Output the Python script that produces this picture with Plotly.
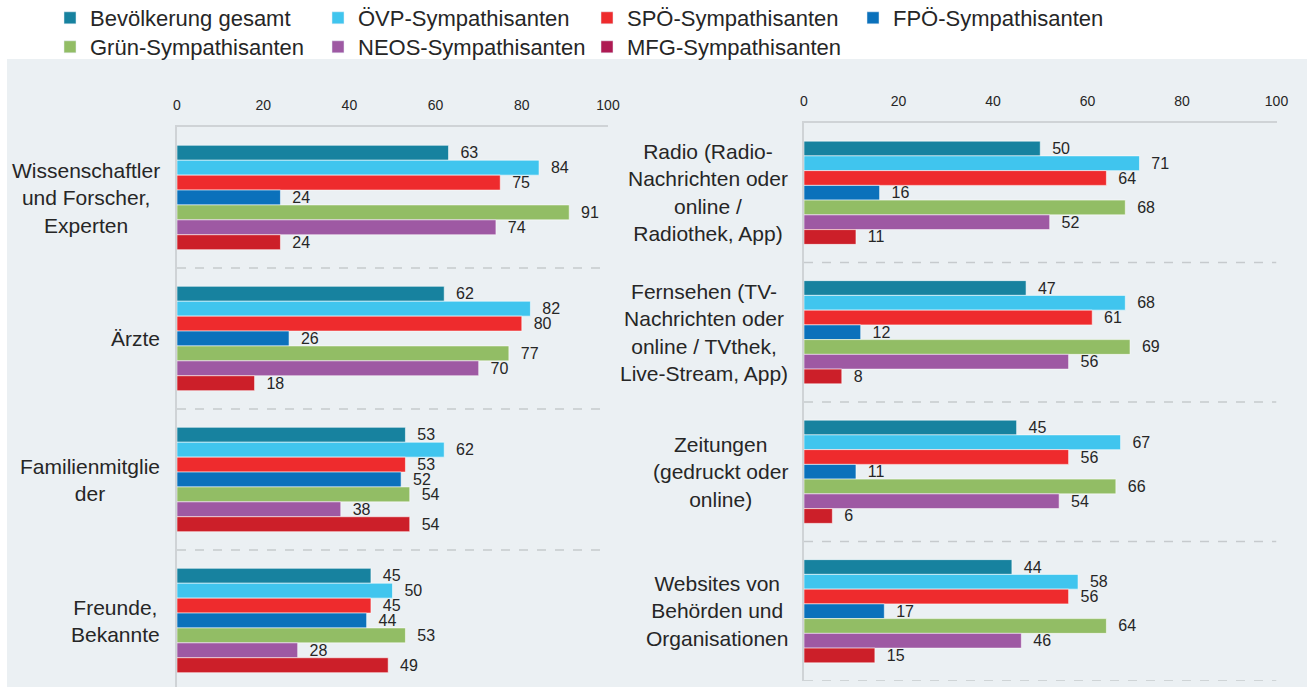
import plotly.graph_objects as go

W, H = 1307, 687

series_names = ["Bevölkerung gesamt", "ÖVP-Sympathisanten", "SPÖ-Sympathisanten",
                "FPÖ-Sympathisanten", "Grün-Sympathisanten", "NEOS-Sympathisanten",
                "MFG-Sympathisanten"]
bar_colors = ["#17829f", "#40c5ee", "#ee2b2d", "#0b71bb", "#92bd65", "#9e59a3", "#cc1f29"]
legend_colors = ["#17829f", "#40c5ee", "#ee2b2d", "#0b71bb", "#92bd65", "#9e59a3", "#ae1a53"]

left_categories = ["Wissenschaftler und Forscher, Experten", "Ärzte",
                   "Familienmitglieder", "Freunde, Bekannte"]
left_labels = ["Wissenschaftler<br>und Forscher,<br>Experten", "Ärzte",
               "Familienmitglie<br>der", "Freunde,<br>Bekannte"]
# values per series (rows) for each left category (columns)
left_values = [
    [63, 62, 53, 45],   # Bevölkerung gesamt
    [84, 82, 62, 50],   # ÖVP
    [75, 80, 53, 45],   # SPÖ
    [24, 26, 52, 44],   # FPÖ
    [91, 77, 54, 53],   # Grün
    [74, 70, 38, 28],   # NEOS
    [24, 18, 54, 49],   # MFG
]

right_categories = ["Radio (Radio-Nachrichten oder online / Radiothek, App)",
                    "Fernsehen (TV-Nachrichten oder online / TVthek, Live-Stream, App)",
                    "Zeitungen (gedruckt oder online)",
                    "Websites von Behörden und Organisationen"]
right_labels = ["Radio (Radio-<br>Nachrichten oder<br>online /<br>Radiothek, App)",
                "Fernsehen (TV-<br>Nachrichten oder<br>online / TVthek,<br>Live-Stream, App)",
                "Zeitungen<br>(gedruckt oder<br>online)",
                "Websites von<br>Behörden und<br>Organisationen"]
right_values = [
    [50, 47, 45, 44],   # Bevölkerung gesamt
    [71, 68, 67, 58],   # ÖVP
    [64, 61, 56, 56],   # SPÖ
    [16, 12, 11, 17],   # FPÖ
    [68, 69, 66, 64],   # Grün
    [52, 56, 54, 46],   # NEOS
    [11, 8, 6, 15],     # MFG
]

x_ticks = [0, 20, 40, 60, 80, 100]

FONT = "Liberation Sans, Arial, sans-serif"
TXT = "#262626"
PANEL = "#ebf0f3"
AXIS = "#cfd3d6"

fig = go.Figure()

for i, name in enumerate(series_names):
    common = dict(
        orientation="h", name=name, showlegend=False,
        marker=dict(color=bar_colors[i], line=dict(color="rgba(255,255,255,0.55)", width=1)),
        texttemplate="\u00a0\u00a0%{x}", textposition="outside",
        textfont=dict(size=16, color=TXT, family=FONT),
        constraintext="none", cliponaxis=False, hoverinfo="x+y+name",
    )
    fig.add_trace(go.Bar(x=left_values[i], y=left_categories, xaxis="x", yaxis="y", **common))
    fig.add_trace(go.Bar(x=right_values[i], y=right_categories, xaxis="x2", yaxis="y2", **common))

def px_x(v):
    return v / W

def px_y(v):
    return 1 - v / H

# one legend per entry, placed like the original two-row legend
legend_keys = ["legend", "legend2", "legend3", "legend4", "legend5", "legend6", "legend7"]
legend_pos = [(50, 18), (318, 18), (587, 18), (853, 18), (50, 47), (318, 47), (587, 47)]
for i, name in enumerate(series_names):
    fig.add_trace(go.Bar(x=[None], y=[None], name=name, orientation="h",
                         marker=dict(color=legend_colors[i]),
                         xaxis="x3", yaxis="y3", legend=legend_keys[i], showlegend=True))

legend_common = dict(font=dict(size=22, color=TXT, family=FONT), bgcolor="rgba(0,0,0,0)",
                     orientation="v", xanchor="left", yanchor="middle",
                     borderwidth=0, tracegroupgap=0)
layout_legends = {}
for key, (lx, ly) in zip(legend_keys, legend_pos):
    layout_legends[key] = dict(x=px_x(lx), y=px_y(ly), **legend_common)

left_bottom_range = -0.5 + (H - 127) / 141.0

xaxis_common = dict(side="top", range=[0, 100], tickvals=x_ticks, showgrid=False, zeroline=False,
                    showline=True, linecolor=AXIS, linewidth=2, ticks="",
                    ticklabelstandoff=9,
                    tickfont=dict(size=14, color=TXT, family=FONT), fixedrange=True)
yaxis_common = dict(showgrid=False, zeroline=False, showline=True, linecolor=AXIS, linewidth=1.5,
                    showticklabels=False, ticks="", type="category", fixedrange=True)

fig.update_layout(
    autosize=True,
    margin=dict(l=0, r=0, t=0, b=0, autoexpand=False),
    paper_bgcolor="white", plot_bgcolor="rgba(0,0,0,0)",
    font=dict(family=FONT, color=TXT),
    barmode="group", bargap=0.26, bargroupgap=0,
    xaxis=dict(domain=[px_x(177), px_x(608)], anchor="y", **xaxis_common),
    yaxis=dict(domain=[0, px_y(127)], anchor="x", range=[left_bottom_range, -0.5], **yaxis_common),
    xaxis2=dict(domain=[px_x(804), px_x(1276.5)], anchor="y2", **xaxis_common),
    yaxis2=dict(domain=[px_y(681), px_y(123)], anchor="x2", range=[3.5, -0.5], **yaxis_common),
    xaxis3=dict(domain=[0, 0.001], visible=False, anchor="y3"),
    yaxis3=dict(domain=[0, 0.001], visible=False, anchor="x3"),
    **layout_legends,
)

shapes = [dict(type="rect", xref="paper", yref="paper", x0=px_x(7), x1=1, y0=0, y1=px_y(59),
               fillcolor=PANEL, line=dict(width=0), layer="below")]
for yv in [0.5, 1.5, 2.5]:
    shapes.append(dict(type="line", xref="x", yref="y", x0=0, x1=100, y0=yv, y1=yv,
                       line=dict(color="#c6cacd", width=1.5, dash="dash"), layer="below"))
for yv in [0.5, 1.5, 2.5, 3.5]:
    shapes.append(dict(type="line", xref="x2", yref="y2", x0=0, x1=100, y0=yv, y1=yv,
                       line=dict(color="#c6cacd", width=1.5, dash="dash"), layer="below"))
fig.update_layout(shapes=shapes)

annotations = []
for cat, lab in zip(left_categories, left_labels):
    annotations.append(dict(xref="paper", yref="y", x=px_x(162), y=cat, text=lab,
                            xanchor="right", yanchor="middle", align="center", showarrow=False,
                            font=dict(size=21, color=TXT, family=FONT)))
for cat, lab in zip(right_categories, right_labels):
    annotations.append(dict(xref="paper", yref="y2", x=px_x(790), y=cat, text=lab,
                            xanchor="right", yanchor="middle", align="center", showarrow=False,
                            font=dict(size=21, color=TXT, family=FONT)))
fig.update_layout(annotations=annotations)

css_js = (
    "var s=document.createElement('style');"
    "s.textContent='html,body{margin:0;padding:0;overflow:hidden;width:100%;height:100%;}';"
    "document.head.appendChild(s);"
    "window.dispatchEvent(new Event('resize'));"
)

fig.write_html(
    "out.html",
    config={"displayModeBar": False, "responsive": True},
    default_width="100vw",
    default_height="100vh",
    post_script=css_js,
)
